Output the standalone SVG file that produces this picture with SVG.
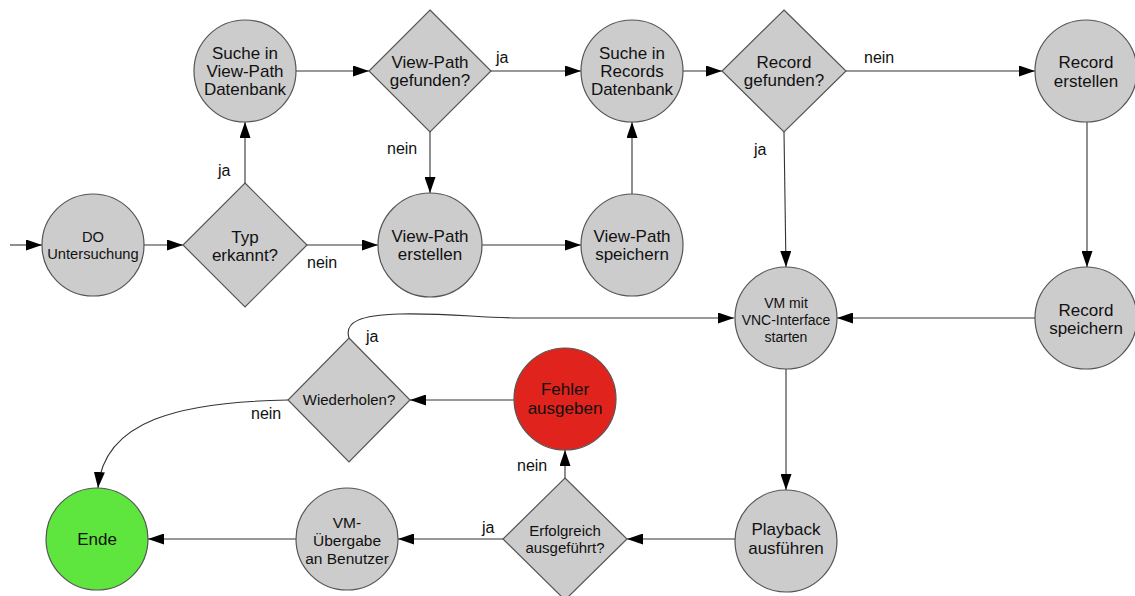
<svg xmlns="http://www.w3.org/2000/svg" width="1135" height="596" viewBox="0 0 1135 596">
  <style>
    .node { fill: #cccccc; stroke: #555555; stroke-width: 1.2; }
    .err { fill: #e0231c; stroke: #555555; stroke-width: 1.2; }
    .end { fill: #5ee63e; stroke: #555555; stroke-width: 1.2; }
    .edge { fill: none; stroke: #333333; stroke-width: 1.1; marker-end: url(#arrow); }
    text { font-family: "Liberation Sans", Arial, Helvetica, sans-serif; fill: #111111; text-anchor: middle; }
    .t17 { font-size: 17px; }
    .t15 { font-size: 15px; }
    .t155 { font-size: 15.5px; }
    .t14 { font-size: 14px; }
    .t145 { font-size: 14.7px; }
    .lbl { font-size: 16px; text-anchor: start; }
  </style>
  <defs>
    <marker id="arrow" markerUnits="userSpaceOnUse" markerWidth="16" markerHeight="11" refX="16" refY="5.5" orient="auto">
      <path d="M0,0 L16,5.5 L0,11 z" fill="#000000"/>
    </marker>
  </defs>
  <rect width="1135" height="596" fill="#ffffff"/>

  <!-- connectors -->
  <g id="connectors">
    <path class="edge" d="M10,245 L42,245"/>
    <path class="edge" d="M144,245 L183,245"/>
    <path class="edge" d="M245,183 L245,122"/>
    <path class="edge" d="M307,245 L378,245"/>
    <path class="edge" d="M296,71 L369,71"/>
    <path class="edge" d="M491,71 L581,71"/>
    <path class="edge" d="M430,132 L430,193"/>
    <path class="edge" d="M482,245 L581,245"/>
    <path class="edge" d="M632,194 L632,122"/>
    <path class="edge" d="M683,71 L722,71"/>
    <path class="edge" d="M846,71 L1035,71"/>
    <path class="edge" d="M784,132 L786,267"/>
    <path class="edge" d="M1087,122 L1087,267"/>
    <path class="edge" d="M1035,318 L837,318"/>
    <path class="edge" d="M786,369 L786,490"/>
    <path class="edge" d="M735,539 L627,539"/>
    <path class="edge" d="M503,539 L398,539"/>
    <path class="edge" d="M565,478 L565,450"/>
    <path class="edge" d="M514,400 L410,400"/>
    <path class="edge" d="M349,338 C344,322 360,315 400,314 C450,313 480,318 520,318 L734,318"/>
    <path class="edge" d="M288,400 C180,402 104,420 98,488"/>
    <path class="edge" d="M296,539 L148,539"/>
  </g>

  <!-- connector labels -->
  <g id="labels">
    <text class="lbl" x="218" y="176">ja</text>
    <text class="lbl" x="307" y="268">nein</text>
    <text class="lbl" x="496" y="63">ja</text>
    <text class="lbl" x="387" y="154">nein</text>
    <text class="lbl" x="864" y="63">nein</text>
    <text class="lbl" x="754" y="155">ja</text>
    <text class="lbl" x="366" y="342">ja</text>
    <text class="lbl" x="251" y="419">nein</text>
    <text class="lbl" x="517" y="471">nein</text>
    <text class="lbl" x="482" y="533">ja</text>
  </g>

  <g id="do-untersuchung">
    <circle class="node" cx="93" cy="245" r="51"/>
    <text class="t145" x="93" y="242">DO</text>
    <text class="t145" x="93" y="259">Untersuchung</text>
  </g>

  <g id="typ-erkannt">
    <polygon class="node" points="245,183 307,245 245,307 183,245"/>
    <text class="t17" x="245" y="243">Typ</text>
    <text class="t17" x="245" y="261">erkannt?</text>
  </g>

  <g id="suche-view-path">
    <circle class="node" cx="245" cy="71" r="51"/>
    <text class="t17" x="245" y="59">Suche in</text>
    <text class="t17" x="245" y="77">View-Path</text>
    <text class="t17" x="245" y="95">Datenbank</text>
  </g>

  <g id="view-path-gefunden">
    <polygon class="node" points="430,10 491,71 430,132 369,71"/>
    <text class="t17" x="430" y="68">View-Path</text>
    <text class="t17" x="430" y="86">gefunden?</text>
  </g>

  <g id="view-path-erstellen">
    <circle class="node" cx="430" cy="245" r="52"/>
    <text class="t17" x="430" y="242">View-Path</text>
    <text class="t17" x="430" y="260">erstellen</text>
  </g>

  <g id="view-path-speichern">
    <circle class="node" cx="632" cy="245" r="51"/>
    <text class="t17" x="632" y="242">View-Path</text>
    <text class="t17" x="632" y="260">speichern</text>
  </g>

  <g id="suche-records">
    <circle class="node" cx="632" cy="71" r="51"/>
    <text class="t17" x="632" y="59">Suche in</text>
    <text class="t17" x="632" y="77">Records</text>
    <text class="t17" x="632" y="95">Datenbank</text>
  </g>

  <g id="record-gefunden">
    <polygon class="node" points="784,10 846,71 784,132 722,71"/>
    <text class="t17" x="784" y="68">Record</text>
    <text class="t17" x="784" y="86">gefunden?</text>
  </g>

  <g id="record-erstellen">
    <circle class="node" cx="1086" cy="71" r="51"/>
    <text class="t17" x="1086" y="68">Record</text>
    <text class="t17" x="1086" y="87">erstellen</text>
  </g>

  <g id="record-speichern">
    <circle class="node" cx="1086" cy="318" r="51"/>
    <text class="t17" x="1086" y="316">Record</text>
    <text class="t17" x="1086" y="334">speichern</text>
  </g>

  <g id="vm-starten">
    <circle class="node" cx="786" cy="318" r="51"/>
    <text class="t14" x="786" y="308">VM mit</text>
    <text class="t14" x="786" y="325">VNC-Interface</text>
    <text class="t14" x="786" y="342">starten</text>
  </g>

  <g id="playback">
    <circle class="node" cx="786" cy="541" r="51"/>
    <text class="t17" x="786" y="535">Playback</text>
    <text class="t17" x="786" y="554">ausführen</text>
  </g>

  <g id="erfolgreich">
    <polygon class="node" points="565,478 627,539 565,600 503,539"/>
    <text class="t15" x="565" y="536">Erfolgreich</text>
    <text class="t15" x="565" y="553">ausgeführt?</text>
  </g>

  <g id="fehler">
    <circle class="err" cx="565" cy="399" r="51"/>
    <text class="t17" x="565" y="395">Fehler</text>
    <text class="t17" x="565" y="414">ausgeben</text>
  </g>

  <g id="wiederholen">
    <polygon class="node" points="349,338 410,400 349,462 288,400"/>
    <text class="t15" x="349" y="405">Wiederholen?</text>
  </g>

  <g id="vm-uebergabe">
    <circle class="node" cx="347" cy="539" r="51"/>
    <text class="t155" x="347" y="528">VM-</text>
    <text class="t155" x="347" y="546">Übergabe</text>
    <text class="t155" x="347" y="564">an Benutzer</text>
  </g>

  <g id="ende">
    <circle class="end" cx="97" cy="539" r="51"/>
    <text class="t17" x="97" y="545">Ende</text>
  </g>
</svg>
